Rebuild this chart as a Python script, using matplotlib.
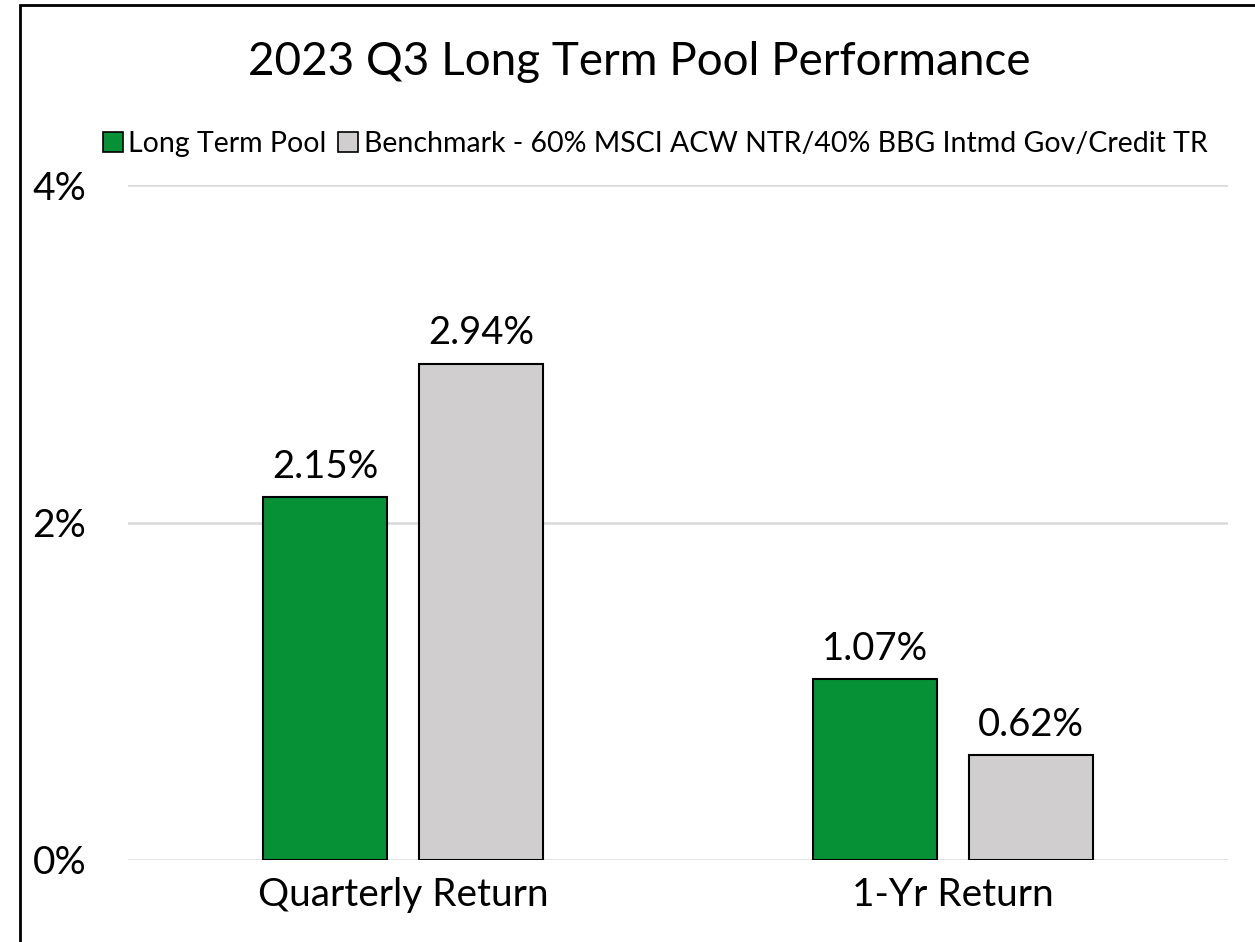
import matplotlib.pyplot as plt
from matplotlib.patches import Patch, Rectangle
import numpy as np

categories = ["Quarterly Return", "1-Yr Return"]
series_names = ["Long Term Pool", "Benchmark - 60% MSCI ACW NTR/40% BBG Intmd Gov/Credit TR"]
pool = [0.0215, 0.0107]
bench = [0.0294, 0.0062]
yticks = [0, 0.02, 0.04]
ytick_labels = ["0%", "2%", "4%"]

green = "#079137"
grey = "#D0CECE"

plt.rcParams['font.family'] = ['Lato', 'DejaVu Sans']

fig = plt.figure(figsize=(12.55, 9.42), dpi=100)
ax = fig.add_axes([128 / 1255, 1 - 860 / 942, 1100 / 1255, 675 / 942])

x = np.arange(len(categories))
w = 0.225
off = 0.142
b1 = ax.bar(x - off, pool, w, color=green, edgecolor="black", linewidth=1.5, zorder=3)
b2 = ax.bar(x + off, bench, w, color=grey, edgecolor="black", linewidth=1.5, zorder=3)

for bars, vals in [(b1, pool), (b2, bench)]:
    for rect, v in zip(bars, vals):
        ax.annotate(f"{v * 100:.2f}%", (rect.get_x() + rect.get_width() / 2, v),
                    xytext=(0, 9), textcoords="offset points",
                    ha="center", va="bottom", fontsize=27.5)

ax.set_xlim(-0.5, 1.5)
ax.set_ylim(0, 0.04)
ax.set_yticks(yticks)
ax.set_yticklabels(ytick_labels)
ax.set_xticks(x)
ax.set_xticklabels(categories)
ax.tick_params(axis="y", length=0, pad=30, labelsize=28)
ax.tick_params(axis="x", length=0, pad=12, labelsize=28)
ax.grid(axis="y", color="#D9D9D9", linewidth=1.8, zorder=0)
for s in ax.spines.values():
    s.set_visible(False)
ax.set_axisbelow(True)

fig.text(0.509, 1 - 62 / 942, "2023 Q3 Long Term Pool Performance",
         ha="center", va="center", fontsize=33)

handles = [Patch(facecolor=green, edgecolor="black", linewidth=1.2),
           Patch(facecolor=grey, edgecolor="black", linewidth=1.2)]
fig.legend(handles, series_names, loc="center", bbox_to_anchor=(0.522, 1 - 144 / 942),
           ncol=2, frameon=False, fontsize=20.5, handlelength=0.7, handleheight=0.7,
           handletextpad=0.2, columnspacing=0.4, borderaxespad=0)

fig.patches.append(Rectangle((20 / 1255, -0.1), 1.2, 1.1 - 5 / 942,
                             transform=fig.transFigure, fill=False,
                             edgecolor="black", linewidth=2))

fig.savefig("out.png", dpi=100)
